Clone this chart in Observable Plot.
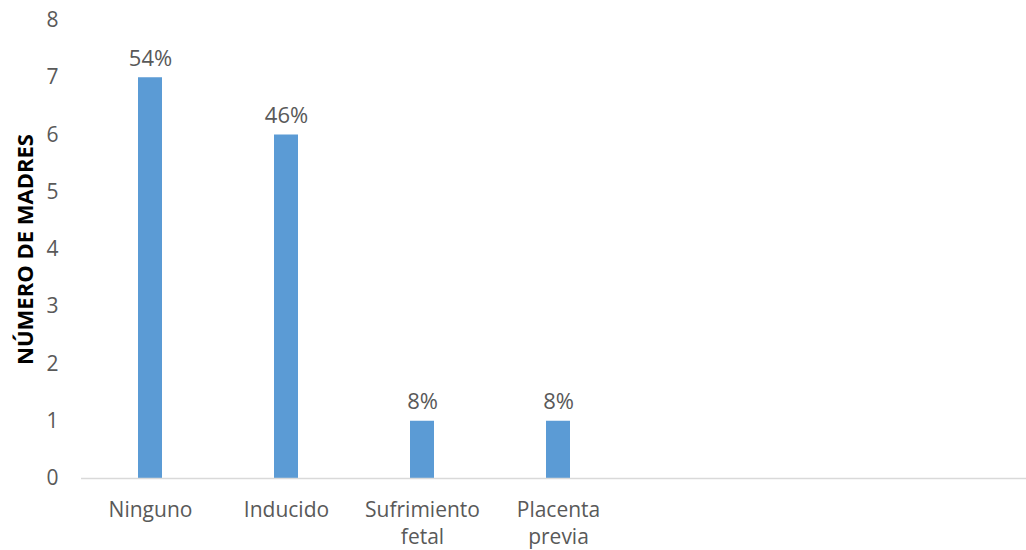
<!DOCTYPE html>
<html>
<head>
<meta charset="utf-8">
<script src="https://cdn.jsdelivr.net/npm/d3@7"></script>
<script src="https://cdn.jsdelivr.net/npm/@observablehq/plot@0.6"></script>
<style>
  html, body { margin: 0; padding: 0; background: #fff; }
  #chart svg { display: block; }
</style>
</head>
<body>
<div id="chart"></div>
<script>
const categories = ["Ninguno", "Inducido", "Sufrimiento fetal", "Placenta previa"];
const counts = [7, 6, 1, 1];
const percentLabels = ["54%", "46%", "8%", "8%"];
const yTicks = [0, 1, 2, 3, 4, 5, 6, 7, 8];
const yTitle = "NÚMERO DE MADRES";

const data = categories.map((c, i) => ({category: c, count: counts[i], label: percentLabels[i]}));

const chart = Plot.plot({
  width: 1026,
  height: 550,
  marginTop: 20,
  marginBottom: 72,
  marginLeft: 81,
  marginRight: 0,
  style: {fontFamily: "'Open Sans', sans-serif", fontSize: "20px", color: "#595959", background: "#fff"},
  x: {domain: categories, range: [81, 627.4], paddingInner: 0.827, paddingOuter: 0.4135, align: 0.5},
  y: {domain: [0, 8], ticks: yTicks},
  marks: [
    Plot.axisY({ticks: yTicks, tickSize: 0, tickPadding: 23, fontSize: 21, label: null, fill: "#595959"}),
    Plot.text([yTitle], {
      frameAnchor: "left", textAnchor: "middle", lineAnchor: "middle", rotate: -90, dx: -56,
      fontWeight: "bold", fontSize: 22, fill: "#000"
    }),
    Plot.axisX({tickSize: 0, tickPadding: 19, fontSize: 21, label: null, lineWidth: 6, lineHeight: 1.3, fill: "#595959"}),
    Plot.barY(data, {x: "category", y: "count", fill: "#5B9BD5"}),
    Plot.ruleY([0], {stroke: "#D9D9D9", strokeWidth: 1.5}),
    Plot.text(data, {x: "category", y: "count", text: "label", lineAnchor: "bottom", dy: -12, fontSize: 22, fill: "#595959"})
  ]
});
document.getElementById("chart").appendChild(chart);
</script>
</body>
</html>
